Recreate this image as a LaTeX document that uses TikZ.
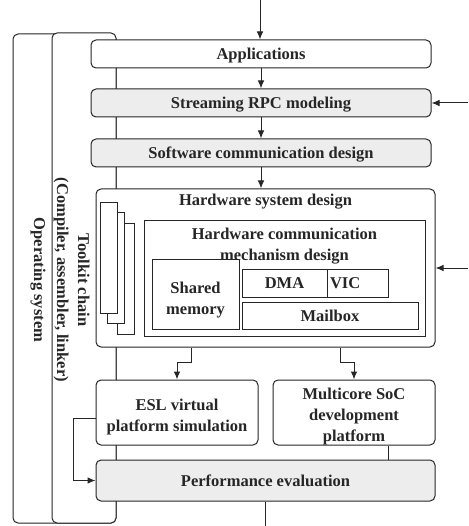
\documentclass[tikz,border=0pt]{standalone}
\usepackage{fontspec}
\setmainfont{Liberation Serif}
\usepackage{tikz}
\usetikzlibrary{arrows.meta}

\begin{document}
\begin{tikzpicture}
	[x=1pt, y=-1pt, line width=1pt, color=black!85,
	 >={Latex[length=8pt, width=6.5pt]},
	 font=\fontsize{16.5}{21}\selectfont\bfseries,
	 flow box/.style={draw, rounded corners=5pt, fill=white, inner sep=0pt, minimum height=28pt, text height=11pt, text depth=0pt},
	 grey box/.style={flow box, fill=black!7},
	 plain box/.style={draw, fill=white, inner sep=0pt, text height=11pt, text depth=0pt},
	 side box/.style={draw, rounded corners=5pt, fill=white, inner sep=0pt}]
	\useasboundingbox (0,0) rectangle (468,526);

	%side bars
	\node[side box, minimum width=103pt, minimum height=489pt] (os) at (64.5,278.5) {};
	\node[side box, minimum width=64pt, minimum height=490pt] (toolkit) at (84,278) {};
	\node[rotate=-90] (os label) at (38,280) {Operating system};
	\node[rotate=-90, align=center] (toolkit label) at (71.5,280) {Toolkit chain\\(Compiler, assembler, linker)};

	%design flow
	\node[flow box, minimum width=340pt] (apps) at (261,54) {Applications};
	\node[grey box, minimum width=340pt] (rpc) at (261,103) {Streaming RPC modeling};
	\node[grey box, minimum width=340pt] (swcomm) at (261,153) {Software communication design};

	\node[flow box, minimum width=339pt, minimum height=158pt] (hwsys) at (265.5,268) {};
	\node (hwsys title) at (265.5,202) {Hardware system design};
	\foreach \n/\x/\y in {3/125.5/279, 2/115.5/268, 1/108.5/258}{
		\node[plain box, minimum width=17pt, minimum height=110pt] (card\n) at (\x,\y) {};
	}
	\node[plain box, minimum width=281pt, minimum height=115pt] (hwcomm) at (284.5,278.5) {};
	\node[align=center] (hwcomm title) at (284.5,246) {Hardware communication\\mechanism design};
	\node[plain box, minimum width=87pt, minimum height=70pt] (shared) at (195.5,294) {};
	\node[align=center] (shared text) at (195.5,300) {Shared\\memory};
	\node[plain box, minimum width=85pt, minimum height=28pt] (dma) at (284.5,283) {DMA};
	\node[plain box, minimum width=61pt, minimum height=28pt, text width=55pt, align=left] (vic) at (357.5,283) {VIC};
	\node[plain box, minimum width=176pt, minimum height=27pt] (mailbox) at (330,315.5) {Mailbox};

	\node[flow box, minimum width=162pt, minimum height=65pt] (esl) at (177,412.5) {};
	\node[align=center] (esl text) at (177,417) {ESL virtual\\platform simulation};
	\node[flow box, minimum width=162pt, minimum height=65pt] (multicore) at (354,412.5) {};
	\node[align=center] (multicore text) at (354,416.5) {Multicore SoC\\development\\platform};
	\node[grey box, minimum width=339pt, minimum height=41pt] (perf) at (265.5,480.5) {Performance evaluation};

	%connectors
	\coordinate (top in) at (260,0);
	\coordinate (rpc in) at (468,103);
	\coordinate (hw in) at (468,268);
	\coordinate (bottom out) at (265,526);

	\draw[->] (top in) -- (top in |- apps.north);
	\draw[->] (apps) -- (rpc);
	\draw[->] (rpc) -- (swcomm);
	\draw[->] (swcomm.south) -- (swcomm.south |- hwsys.north);
	\draw[->] (rpc in) -- (rpc.east);
	\draw[->] (hw in) -- (hwsys.east);
	\draw[->] ([xshift=-74.5pt]hwsys.south) -- ++(0,15) -| (esl.north);
	\draw[->] ([xshift=74.5pt]hwsys.south) -- ++(0,15) -| (multicore.north);
	\draw[->] ([yshift=-6pt]esl.west) -- ++(-22,0) |- (perf.west);
	\draw ([xshift=34pt]multicore.south) -- ([xshift=34pt]multicore.south |- perf.north);
	\draw (perf.south -| bottom out) -- (bottom out);
\end{tikzpicture}
\end{document}
